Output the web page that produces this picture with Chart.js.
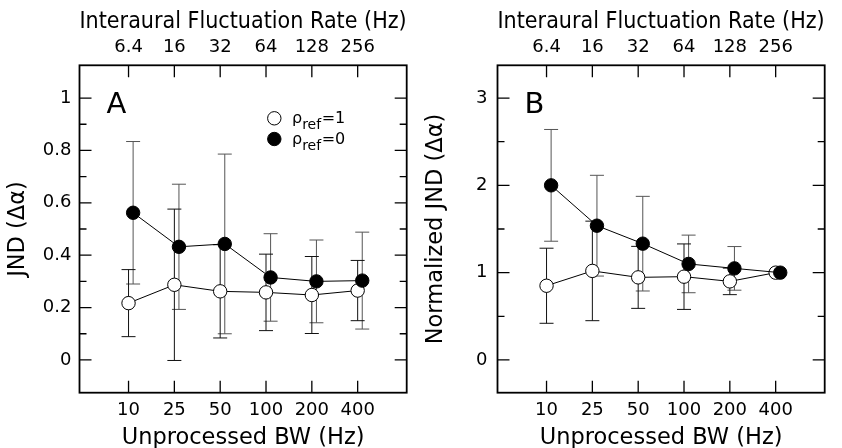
<!DOCTYPE html>
<html>
<head>
<meta charset="utf-8">
<script src="https://cdn.jsdelivr.net/npm/chart.js@4.4.1/dist/chart.umd.min.js"></script>
<style>
  html, body { margin: 0; padding: 0; background: #fff; }
  body { width: 842px; height: 448px; position: relative; overflow: hidden; }
  canvas { position: absolute; top: 0; }
  #cA { left: 0px; }
  #cB { left: 418px; }
</style>
</head>
<body>
<canvas id="cA" width="421" height="448"></canvas>
<canvas id="cB" width="421" height="448"></canvas>
<script>
// ---- data ----
const bandwidths = ['10', '25', '50', '100', '200', '400'];
const rates = ['6.4', '16', '32', '64', '128', '256'];

const aOpen = [0.217, 0.287, 0.262, 0.258, 0.248, 0.265];
const aOpenErr = [0.128, 0.289, 0.178, 0.146, 0.147, 0.115];
const aFilled = [0.562, 0.432, 0.443, 0.315, 0.300, 0.303];
const aFilledErr = [0.272, 0.239, 0.343, 0.167, 0.158, 0.185];

const bOpen = [0.85, 1.02, 0.946, 0.954, 0.90, 1.0];
const bOpenErr = [0.43, 0.57, 0.355, 0.375, 0.152, 0];
const bFilled = [2.0, 1.538, 1.332, 1.10, 1.049, 1.0];
const bFilledErr = [0.64, 0.577, 0.542, 0.33, 0.25, 0];

const aMajor = [0, 0.2, 0.4, 0.6, 0.8, 1];
const aMajorLabels = ['0', '0.2', '0.4', '0.6', '0.8', '1'];
const aMinor = [0.1, 0.3, 0.5, 0.7, 0.9];
const bMajor = [0, 1, 2, 3];
const bMajorLabels = ['0', '1', '2', '3'];
const bMinor = [0.5, 1.5, 2.5];

const FONT = 'DejaVu Sans';
const tickFont = { family: FONT, size: 18 };
const titleFont = { family: FONT, size: 22.5, lineHeight: 1 };

function pts(vals, shift) {
  return vals.map((v, i) => ({ x: i + shift, y: v }));
}

const panelPlugin = {
  id: 'panel',
  beforeDatasetsDraw(chart) {
    const ctx = chart.ctx;
    const xs = chart.scales.x, ys = chart.scales.y;
    ctx.save();
    chart.data.datasets.forEach(ds => {
      const err = ds.errors;
      ctx.strokeStyle = ds.errColor;
      ctx.lineWidth = 1;
      ds.data.forEach((p, i) => {
        const e = err[i];
        if (!e) return;
        const px = xs.getPixelForValue(p.x);
        const top = ys.getPixelForValue(p.y + e);
        const bot = ys.getPixelForValue(p.y - e);
        ctx.beginPath();
        ctx.moveTo(px, top); ctx.lineTo(px, bot);
        ctx.moveTo(px - 7, top); ctx.lineTo(px + 7, top);
        ctx.moveTo(px - 7, bot); ctx.lineTo(px + 7, bot);
        ctx.stroke();
      });
    });
    ctx.restore();
  },
  afterDraw(chart, args, opts) {
    const ctx = chart.ctx;
    const a = chart.chartArea;
    const xs = chart.scales.x, ys = chart.scales.y;
    ctx.save();
    ctx.strokeStyle = '#000';
    ctx.lineWidth = 1.8;
    ctx.strokeRect(a.left, a.top, a.right - a.left, a.bottom - a.top);
    ctx.lineWidth = 1.3;
    ctx.beginPath();
    xs.ticks.forEach(t => {
      const px = xs.getPixelForValue(t.value);
      ctx.moveTo(px, a.bottom); ctx.lineTo(px, a.bottom - 12);
      ctx.moveTo(px, a.top); ctx.lineTo(px, a.top + 12);
    });
    opts.major.forEach(v => {
      const py = ys.getPixelForValue(v);
      ctx.moveTo(a.left, py); ctx.lineTo(a.left + 12, py);
      ctx.moveTo(a.right, py); ctx.lineTo(a.right - 12, py);
    });
    opts.minor.forEach(v => {
      const py = ys.getPixelForValue(v);
      ctx.moveTo(a.left, py); ctx.lineTo(a.left + 7, py);
      ctx.moveTo(a.right, py); ctx.lineTo(a.right - 7, py);
    });
    ctx.stroke();
    // panel letter
    ctx.fillStyle = '#000';
    ctx.font = '29px ' + FONT;
    ctx.textBaseline = 'alphabetic';
    ctx.textAlign = 'left';
    ctx.fillText(opts.letter, a.left + 27, 112.7);
    // legend
    if (opts.legend) {
      const lx = 274.3;
      const rows = [{ y: 118.3, fill: '#fff', v: '1' }, { y: 139, fill: '#000', v: '0' }];
      rows.forEach(r => {
        ctx.beginPath();
        ctx.arc(lx, r.y, 6.7, 0, Math.PI * 2);
        ctx.fillStyle = r.fill;
        ctx.fill();
        ctx.lineWidth = 1;
        ctx.strokeStyle = '#000';
        ctx.stroke();
        ctx.fillStyle = '#000';
        const base = r.y + 5;
        ctx.font = '16px ' + FONT;
        ctx.fillText('ρ', 292, base);
        let w = ctx.measureText('ρ').width;
        ctx.font = '14px ' + FONT;
        ctx.fillText('ref', 292 + w, base + 6);
        let w2 = ctx.measureText('ref').width;
        ctx.font = '16px ' + FONT;
        ctx.fillText('=' + r.v, 292 + w + w2 + 0.5, base);
      });
    }
    ctx.restore();
  }
};

function makeChart(id, open, openErr, filled, filledErr, ymin, ymax, major, majorLabels, minor, ytitle, letter, legend, yPad) {
  const ctx = document.getElementById(id);
  return new Chart(ctx, {
    type: 'line',
    data: {
      datasets: [
        {
          label: 'ρref=0',
          data: pts(filled, 0.1),
          errors: filledErr,
          errColor: '#555',
          showLine: true,
          borderColor: '#000',
          borderWidth: 1,
          pointRadius: 6.7,
          pointBackgroundColor: '#000',
          pointBorderColor: '#000',
          pointBorderWidth: 1,
          xAxisID: 'x', yAxisID: 'y'
        },
        {
          label: 'ρref=1',
          data: pts(open, 0),
          errors: openErr,
          errColor: '#111',
          showLine: true,
          borderColor: '#000',
          borderWidth: 1,
          pointRadius: 6.7,
          pointBackgroundColor: '#fff',
          pointBorderColor: '#000',
          pointBorderWidth: 1,
          xAxisID: 'x', yAxisID: 'y'
        }
      ]
    },
    options: {
      responsive: false,
      animation: false,
      devicePixelRatio: 1,
      layout: { padding: 0 },
      plugins: {
        legend: { display: false },
        tooltip: { enabled: false },
        panel: { major: major, minor: minor, letter: letter, legend: legend }
      },
      scales: {
        x: {
          type: 'linear', position: 'bottom', min: -1.07, max: 6.07,
          afterBuildTicks: s => { s.ticks = bandwidths.map((b, i) => ({ value: i })); },
          ticks: { callback: (v) => bandwidths[Math.round(v)], font: tickFont, color: '#000', padding: 7, maxRotation: 0, autoSkip: false },
          grid: { display: false, drawTicks: false },
          border: { display: false },
          title: { display: true, text: 'Unprocessed BW (Hz)', font: titleFont, color: '#000', padding: { top: 0, bottom: -1 } },
          afterFit: s => { s.height = 55.3; }
        },
        x2: {
          type: 'linear', position: 'top', min: -1.07, max: 6.07,
          afterBuildTicks: s => { s.ticks = rates.map((r, i) => ({ value: i })); },
          ticks: { callback: (v) => rates[Math.round(v)], font: tickFont, color: '#000', padding: 7, maxRotation: 0, autoSkip: false },
          grid: { display: false, drawTicks: false },
          border: { display: false },
          title: { display: true, text: 'Interaural Fluctuation Rate (Hz)', font: titleFont, color: '#000', padding: { top: 11, bottom: 0 } },
          afterFit: s => { s.height = 65.3; }
        },
        y: {
          type: 'linear', position: 'left', min: ymin, max: ymax,
          afterBuildTicks: s => { s.ticks = major.map(v => ({ value: v })); },
          ticks: { callback: (v, i) => majorLabels[i], font: tickFont, color: '#000', padding: yPad, autoSkip: false },
          grid: { display: false, drawTicks: false },
          border: { display: false },
          title: { display: true, text: ytitle, font: titleFont, color: '#000', padding: { top: 6.5, bottom: 0 } },
          afterFit: s => { s.width = 79.5; }
        },
        y2: {
          type: 'linear', position: 'right', min: ymin, max: ymax,
          ticks: { display: false },
          grid: { display: false, drawTicks: false },
          border: { display: false },
          afterFit: s => { s.width = 14.3; }
        }
      }
    },
    plugins: [panelPlugin]
  });
}

makeChart('cA', aOpen, aOpenErr, aFilled, aFilledErr, -0.125, 1.125, aMajor, aMajorLabels, aMinor, 'JND (Δα)', 'A', true, 8);
makeChart('cB', bOpen, bOpenErr, bFilled, bFilledErr, -0.375, 3.375, bMajor, bMajorLabels, bMinor, 'Normalized JND (Δα)', 'B', false, 10);
</script>
</body>
</html>
